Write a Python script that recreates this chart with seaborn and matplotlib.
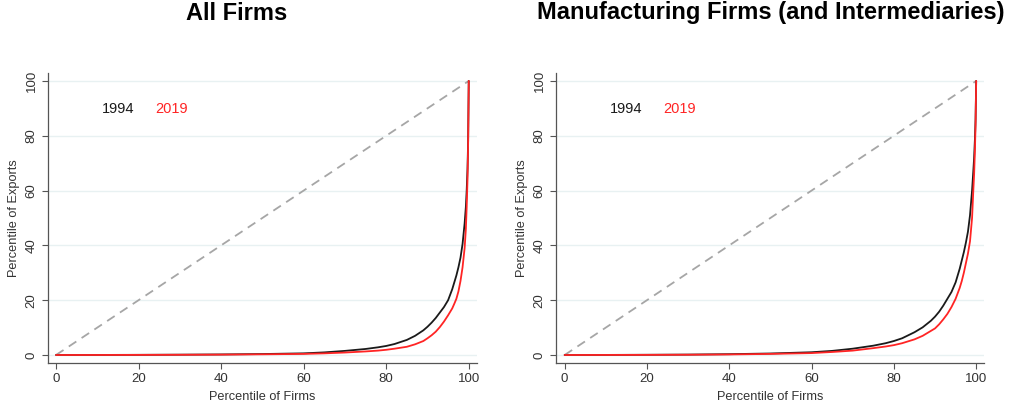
import matplotlib
matplotlib.use("Agg")
import matplotlib.pyplot as plt
import seaborn as sns
import pandas as pd

# ---- data ----
pct_firms = [0, 10, 20, 30, 40, 50, 60, 65, 70, 75, 78, 80, 82, 85, 87, 89, 90, 91, 92, 93, 94,
             95, 96, 96.5, 97, 97.5, 98, 98.5, 99, 99.3, 99.5, 99.7, 99.85, 100]

all_1994 = [0, 0.02, 0.06, 0.12, 0.2, 0.35, 0.6, 0.95, 1.5, 2.2, 2.8, 3.3, 4.0, 5.5, 7.0, 9.0, 10.3, 11.8, 13.5, 15.5, 17.5,
            20.0, 24.0, 26.5, 29.0, 32.0, 35.5, 40.5, 48.0, 54.0, 60.0, 68.0, 78.0, 100]
all_2019 = [0, 0.01, 0.04, 0.08, 0.14, 0.25, 0.4, 0.6, 0.9, 1.3, 1.6, 1.9, 2.3, 3.0, 3.9, 5.1, 6.1, 7.2, 8.5, 10.2, 12.2,
            14.5, 17.0, 18.7, 20.5, 23.2, 27.0, 32.0, 39.0, 46.0, 54.0, 64.0, 77.0, 100]

mfg_1994 = [0, 0.03, 0.08, 0.15, 0.3, 0.55, 1.0, 1.5, 2.3, 3.4, 4.3, 5.1, 6.1, 8.3, 10.1, 12.5, 14.0, 15.8, 18.0, 20.5, 23.0,
            26.5, 31.5, 34.5, 37.5, 41.0, 45.0, 51.0, 60.0, 67.0, 72.0, 79.0, 86.0, 100]
mfg_2019 = [0, 0.02, 0.05, 0.1, 0.2, 0.4, 0.7, 1.1, 1.6, 2.5, 3.1, 3.6, 4.3, 5.7, 7.0, 8.8, 9.7, 11.2, 13.0, 15.0, 17.5,
            20.5, 24.5, 27.0, 30.0, 33.5, 37.0, 41.5, 50.0, 60.0, 66.0, 75.0, 84.0, 100]

diag = [0, 100]
years = ["1994", "2019"]
titles = ["All Firms", "Manufacturing Firms (and Intermediaries)"]
xticks = [0, 20, 40, 60, 80, 100]
yticks = [0, 20, 40, 60, 80, 100]

sns.set_theme(style="white")
plt.rcParams["font.family"] = ["Liberation Sans", "DejaVu Sans"]

fig = plt.figure(figsize=(10.24, 4.05), dpi=100)
ax_pos = [
    [48 / 1024, 42 / 405, 429 / 1024, 290 / 405],
    [556 / 1024, 42 / 405, 428 / 1024, 290 / 405],
]
xlims = [(-1.94, 102.0), (-2.1, 101.9)]
title_x = [236.5 / 1024, 770.5 / 1024]
series = [(all_1994, all_2019), (mfg_1994, mfg_2019)]

for i in range(2):
    ax = fig.add_axes(ax_pos[i])
    y94, y19 = series[i]
    df = pd.DataFrame({
        "firms": pct_firms * 2,
        "exports": y94 + y19,
        "year": [years[0]] * len(pct_firms) + [years[1]] * len(pct_firms),
    })
    for yv in yticks:
        ax.axhline(yv, color="#e8f1f2", lw=1.0, zorder=0)
    sns.lineplot(x=diag, y=diag, ax=ax, color="#a6a6a6", lw=1.3,
                 linestyle=(0, (5, 3.5)), zorder=2)
    sns.lineplot(data=df, x="firms", y="exports", hue="year",
                 palette={"1994": "#1a1a1a", "2019": "#ff2424"},
                 ax=ax, lw=1.3, sort=False, estimator=None, legend=False, zorder=3)
    ax.set_xlim(*xlims[i])
    ax.set_ylim(-2.92, 102.9)
    ax.set_xticks(xticks)
    ax.set_yticks(yticks)
    ax.set_xticklabels([str(t) for t in xticks], fontsize=9.5, color="#333333")
    ax.set_yticklabels([str(t) for t in yticks], fontsize=9.5, color="#333333",
                       rotation=90, va="center")
    ax.tick_params(axis="both", direction="out", length=4, width=0.8,
                   color="#555555", pad=3.5, bottom=True, left=True)
    for s in ["top", "right"]:
        ax.spines[s].set_visible(False)
    for s in ["left", "bottom"]:
        ax.spines[s].set_color("#555555")
        ax.spines[s].set_linewidth(0.9)
    ax.set_xlabel("Percentile of Firms", fontsize=9.2, color="#333333", labelpad=4)
    ax.set_ylabel("Percentile of Exports", fontsize=9.2, color="#333333", labelpad=4)
    ax.grid(False)
    ax.text(15, 89.8, years[0], color="#1a1a1a", fontsize=10.5, ha="center", va="center")
    ax.text(28, 89.8, years[1], color="#ff2424", fontsize=10.5, ha="center", va="center")
    fig.text(title_x[i], 1 - 19.5 / 405, titles[i], ha="center", va="baseline",
             fontsize=17, fontweight="bold", color="black")

fig.savefig("out.png", dpi=100, facecolor="white")
